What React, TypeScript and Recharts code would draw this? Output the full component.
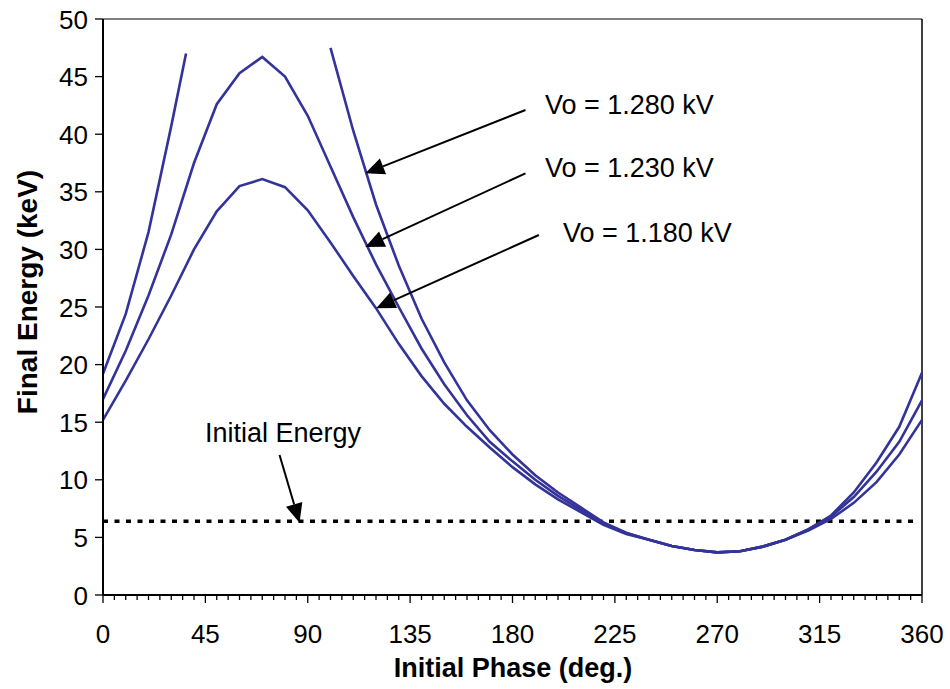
import { LineChart, Line, XAxis, YAxis, ReferenceLine } from 'recharts'

// phase samples (deg.) shared by the two lower curves
const phases = [
  0, 10, 20, 30, 40, 50, 60, 70, 80, 90, 100, 110, 120, 130, 140, 150, 160, 170, 180,
  190, 200, 210, 220, 230, 240, 250, 260, 270, 280, 290, 300, 310, 320, 330, 340, 350, 360,
]

const energy1180 = [
  15.2, 18.6, 22.2, 26.0, 30.0, 33.3, 35.5, 36.1, 35.4, 33.4, 30.6, 27.7, 24.9, 21.8, 19.0, 16.6, 14.6, 12.8, 11.1,
  9.6, 8.3, 7.2, 6.1, 5.3, 4.8, 4.25, 3.9, 3.7, 3.8, 4.2, 4.8, 5.6, 6.6, 8.0, 9.8, 12.2, 15.2,
]

const energy1230 = [
  17.0, 21.2, 26.0, 31.3, 37.5, 42.6, 45.3, 46.7, 45.0, 41.6, 37.2, 32.8, 28.7, 25.0, 21.4, 18.3, 15.6, 13.3, 11.6,
  10.0, 8.6, 7.4, 6.2, 5.35, 4.8, 4.25, 3.9, 3.7, 3.8, 4.2, 4.8, 5.7, 6.8, 8.5, 10.7, 13.3, 16.9,
]

// 1.280 kV curve leaves the top of the plot between ~37 and ~100 deg.
const phases1280 = [
  0, 10, 20, 30, 36.5, 68, 100, 110, 120, 130, 140, 150, 160, 170, 180,
  190, 200, 210, 220, 230, 240, 250, 260, 270, 280, 290, 300, 310, 320, 330, 340, 350, 360,
]
const energy1280 = [
  19.2, 24.4, 31.5, 40.7, 47.0, null, 47.5, 40.3, 33.9, 28.6, 24.0, 20.2, 16.9, 14.3, 12.2,
  10.4, 8.9, 7.6, 6.3, 5.4, 4.8, 4.25, 3.9, 3.7, 3.8, 4.2, 4.8, 5.7, 6.9, 8.9, 11.5, 14.6, 19.3,
]

const initialEnergy = 6.4
const initialPhases = [0, 356.5]

const xTicks = Array.from({ length: 73 }, (_, i) => i * 5)
const yTicks = [0, 5, 10, 15, 20, 25, 30, 35, 40, 45, 50]

const curveLabels = ['Vo = 1.280 kV', 'Vo = 1.230 kV', 'Vo = 1.180 kV']

const toRows = (xs: number[], ys: (number | null)[]) => xs.map((x, i) => ({ phase: x, energy: ys[i] }))

const data1180 = toRows(phases, energy1180)
const data1230 = toRows(phases, energy1230)
const data1280 = toRows(phases1280, energy1280)
const dataInitial = initialPhases.map((p) => ({ phase: p, energy: initialEnergy }))

const FONT = '"Liberation Sans", Arial, sans-serif'
const CURVE = '#333399'

function XTick(props: any) {
  const { x, y, payload } = props
  const v = payload.value
  const major = v % 45 === 0
  return (
    <g>
      <line x1={x} x2={x} y1={y} y2={y + (major ? 8 : 5)} stroke="#000" strokeWidth={1.3} />
      {major && (
        <text x={x} y={y + 48} textAnchor="middle" fontSize={26} fontFamily={FONT} fill="#000">
          {v}
        </text>
      )}
    </g>
  )
}

function YTick(props: any) {
  const { x, y, payload } = props
  return (
    <g>
      <line x1={x - 8} x2={x} y1={y} y2={y} stroke="#000" strokeWidth={1.3} />
      <text x={x - 15} y={y + 9.5} textAnchor="end" fontSize={26} fontFamily={FONT} fill="#000">
        {payload.value}
      </text>
    </g>
  )
}

function arrow(p: any) {
  const { x1, y1, x2, y2 } = p
  const dx = x2 - x1
  const dy = y2 - y1
  const len = Math.hypot(dx, dy) || 1
  const ux = dx / len
  const uy = dy / len
  const hl = 19
  const hw = 8.5
  const bx = x2 - ux * hl
  const by = y2 - uy * hl
  return (
    <g>
      <line x1={x1} y1={y1} x2={bx} y2={by} stroke="#000" strokeWidth={2} />
      <polygon
        points={`${x2},${y2} ${bx - uy * hw},${by + ux * hw} ${bx + uy * hw},${by - ux * hw}`}
        fill="#000"
      />
    </g>
  )
}

export default function App() {
  return (
    <div style={{ position: 'absolute', left: 0, top: 0, background: '#fff' }}>
      <LineChart width={950} height={689} margin={{ top: 19, right: 28, bottom: 0, left: 0 }}>
        <XAxis
          dataKey="phase"
          type="number"
          domain={[0, 360]}
          ticks={xTicks}
          interval={0}
          height={94}
          tick={<XTick />}
          tickLine={false}
          tickSize={0}
          tickMargin={0}
          axisLine={{ stroke: '#000', strokeWidth: 2 }}
        />
        <YAxis
          type="number"
          domain={[0, 50]}
          ticks={yTicks}
          interval={0}
          width={103}
          tick={<YTick />}
          tickLine={false}
          tickSize={0}
          tickMargin={0}
          axisLine={{ stroke: '#000', strokeWidth: 2 }}
        />
        <ReferenceLine y={50} stroke="#000" strokeWidth={1.2} />
        <ReferenceLine x={360} stroke="#000" strokeWidth={1.5} />

        <Line data={dataInitial} dataKey="energy" stroke="#000" strokeWidth={3.4} strokeDasharray="5 6.5" dot={false} isAnimationActive={false} />
        <Line data={data1180} dataKey="energy" stroke={CURVE} strokeWidth={2.6} dot={false} isAnimationActive={false} />
        <Line data={data1230} dataKey="energy" stroke={CURVE} strokeWidth={2.6} dot={false} isAnimationActive={false} />
        <Line data={data1280} dataKey="energy" stroke={CURVE} strokeWidth={2.6} dot={false} isAnimationActive={false} />

        <ReferenceLine segment={[{ x: 185.7, y: 42.1 }, { x: 115.3, y: 36.6 }]} shape={arrow} />
        <ReferenceLine segment={[{ x: 185.7, y: 36.6 }, { x: 115.3, y: 30.2 }]} shape={arrow} />
        <ReferenceLine segment={[{ x: 191.6, y: 31.25 }, { x: 120.1, y: 24.9 }]} shape={arrow} />
        <ReferenceLine segment={[{ x: 77.6, y: 12.15 }, { x: 86.4, y: 6.28 }]} shape={arrow} />

        <text x={545} y={114} fontSize={27} fontFamily={FONT} fill="#000">{curveLabels[0]}</text>
        <text x={545} y={177} fontSize={27} fontFamily={FONT} fill="#000">{curveLabels[1]}</text>
        <text x={563} y={242} fontSize={27} fontFamily={FONT} fill="#000">{curveLabels[2]}</text>
        <text x={205} y={442} fontSize={27} fontFamily={FONT} fill="#000">Initial Energy</text>

        <text x={513} y={677} textAnchor="middle" fontSize={27} fontWeight="bold" fontFamily={FONT} fill="#000">
          Initial Phase (deg.)
        </text>
        <text
          x={27}
          y={292}
          transform="rotate(-90 27 292)"
          textAnchor="middle"
          dominantBaseline="central"
          fontSize={28}
          fontWeight="bold"
          fontFamily={FONT}
          fill="#000"
        >
          Final Energy (keV)
        </text>
      </LineChart>
    </div>
  )
}
